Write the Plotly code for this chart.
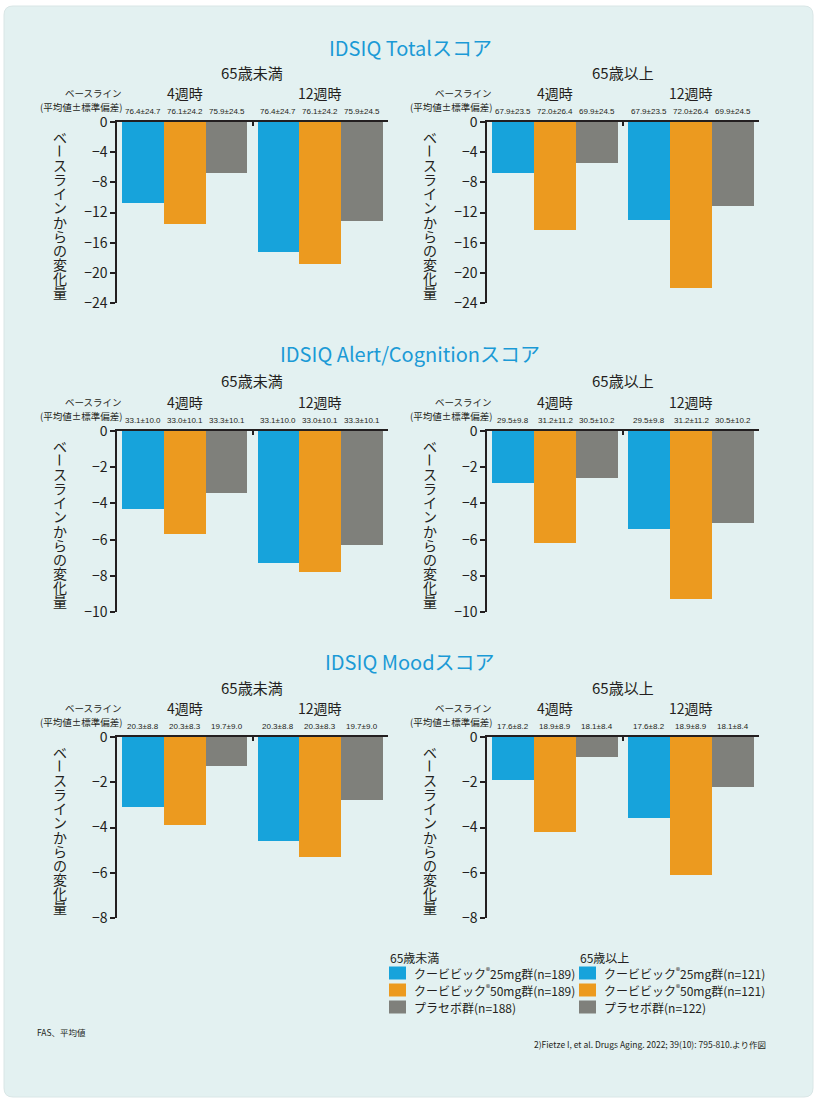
import plotly.graph_objects as go

# ---------------- data ----------------
timepoints = ["4週時", "12週時"]
age_groups = ["65歳未満", "65歳以上"]
scores = ["IDSIQ Totalスコア", "IDSIQ Alert/Cognitionスコア", "IDSIQ Moodスコア"]
series_names = ["クービビック®25mg群", "クービビック®50mg群", "プラセボ群"]

# change from baseline [4週時, 12週時]
total_u65_25 = [-10.7, -17.2]
total_u65_50 = [-13.5, -18.8]
total_u65_pbo = [-6.8, -13.1]
total_o65_25 = [-6.8, -13.0]
total_o65_50 = [-14.3, -22.0]
total_o65_pbo = [-5.5, -11.1]

alert_u65_25 = [-4.3, -7.3]
alert_u65_50 = [-5.7, -7.8]
alert_u65_pbo = [-3.4, -6.3]
alert_o65_25 = [-2.9, -5.4]
alert_o65_50 = [-6.2, -9.3]
alert_o65_pbo = [-2.6, -5.1]

mood_u65_25 = [-3.1, -4.6]
mood_u65_50 = [-3.9, -5.3]
mood_u65_pbo = [-1.3, -2.8]
mood_o65_25 = [-1.9, -3.6]
mood_o65_50 = [-4.2, -6.1]
mood_o65_pbo = [-0.9, -2.2]

# baseline (mean ± SD)
total_u65_base = ["76.4±24.7", "76.1±24.2", "75.9±24.5"]
total_o65_base = ["67.9±23.5", "72.0±26.4", "69.9±24.5"]
alert_u65_base = ["33.1±10.0", "33.0±10.1", "33.3±10.1"]
alert_o65_base = ["29.5±9.8", "31.2±11.2", "30.5±10.2"]
mood_u65_base = ["20.3±8.8", "20.3±8.3", "19.7±9.0"]
mood_o65_base = ["17.6±8.2", "18.9±8.9", "18.1±8.4"]

total_ticks = [0, -4, -8, -12, -16, -20, -24]
alert_ticks = [0, -2, -4, -6, -8, -10]
mood_ticks = [0, -2, -4, -6, -8]

n_u65 = [189, 189, 188]
n_o65 = [121, 121, 122]

# ---------------- style ----------------
W, H = 817, 1102
BG = "#E3F1F1"
TXT = "#231F20"
TITLE_C = "#1B9AD6"
COLORS = ["#17A3DB", "#EC9A1F", "#7F807B"]
JP = "Noto Sans CJK JP"
NUM = "Liberation Sans, Arial, sans-serif"


def fx(p):
    return p / W


def fy(p):
    return 1 - p / H


panels = [
    # (values, baseline labels, ticks, age idx)
    ([total_u65_25, total_u65_50, total_u65_pbo], total_u65_base, total_ticks, 0),
    ([total_o65_25, total_o65_50, total_o65_pbo], total_o65_base, total_ticks, 1),
    ([alert_u65_25, alert_u65_50, alert_u65_pbo], alert_u65_base, alert_ticks, 0),
    ([alert_o65_25, alert_o65_50, alert_o65_pbo], alert_o65_base, alert_ticks, 1),
    ([mood_u65_25, mood_u65_50, mood_u65_pbo], mood_u65_base, mood_ticks, 0),
    ([mood_o65_25, mood_o65_50, mood_o65_pbo], mood_o65_base, mood_ticks, 1),
]

col_px = [(117, 388), (487, 759)]
row_px = [(122, 303), (431, 612), (737, 918)]
title_y = [47, 353, 661]

group_off = [0.0, 3.24]
xr = [-0.62, 5.86]
divider = 2.62

fig = go.Figure()
annotations = []
shapes = []

# card background
x0, x1, y0, y1, r = 4, 813, 6, 1097, 9
path = (f"M {fx(x0+r)},{fy(y0)} L {fx(x1-r)},{fy(y0)} Q {fx(x1)},{fy(y0)} {fx(x1)},{fy(y0+r)} "
        f"L {fx(x1)},{fy(y1-r)} Q {fx(x1)},{fy(y1)} {fx(x1-r)},{fy(y1)} "
        f"L {fx(x0+r)},{fy(y1)} Q {fx(x0)},{fy(y1)} {fx(x0)},{fy(y1-r)} "
        f"L {fx(x0)},{fy(y0+r)} Q {fx(x0)},{fy(y0)} {fx(x0+r)},{fy(y0)} Z")
shapes.append(dict(type="path", xref="paper", yref="paper", path=path,
                   fillcolor=BG, line=dict(color="#D9E6E6", width=1), layer="below"))

ylabel_chars = list("ベースラインからの変化量")

for i, (vals, base, ticks, age) in enumerate(panels):
    k = i + 1
    row = i // 2
    cx0, cx1 = col_px[age]
    ry0, ry1 = row_px[row]
    xa = "x" if k == 1 else f"x{k}"
    ya = "y" if k == 1 else f"y{k}"
    for s in range(3):
        fig.add_trace(go.Bar(
            x=[g + s for g in group_off], y=vals[s], width=1.0,
            marker=dict(color=COLORS[s], line=dict(width=0)),
            xaxis=xa, yaxis=ya, showlegend=False, hoverinfo="skip"))
    xkey = "xaxis" if k == 1 else f"xaxis{k}"
    ykey = "yaxis" if k == 1 else f"yaxis{k}"
    fig.update_layout(**{
        xkey: dict(domain=[fx(cx0), fx(cx1)], range=xr, anchor=ya, side="top",
                   showline=True, linecolor=TXT, linewidth=1.5, ticks="inside",
                   tickvals=[divider, xr[1]], ticklen=4, tickwidth=1.5, tickcolor=TXT,
                   showticklabels=False, showgrid=False, zeroline=False, fixedrange=True,
                   automargin=False),
        ykey: dict(domain=[fy(ry1), fy(ry0)], range=[ticks[-1], 0], anchor=xa,
                   showline=True, linecolor=TXT, linewidth=1.5, ticks="outside",
                   tickvals=ticks, ticklen=5, tickwidth=1.5, tickcolor=TXT,
                   tickfont=dict(family=JP, size=14, color=TXT),
                   showgrid=False, zeroline=False, fixedrange=True, automargin=False),
    })
    ccen = (cx0 + cx1) / 2
    # headers
    annotations.append(dict(text=age_groups[age], x=fx(ccen), y=fy(ry0 - 50), xref="paper", yref="paper",
                            showarrow=False, font=dict(family=JP, size=15, color=TXT),
                            xanchor="center", yanchor="middle"))
    for g, tp in enumerate(timepoints):
        annotations.append(dict(text=tp, x=group_off[g] + 1, y=fy(ry0 - 29), xref=xa, yref="paper",
                                showarrow=False, font=dict(family=JP, size=14, color=TXT),
                                xanchor="center", yanchor="middle"))
        for s in range(3):
            annotations.append(dict(text=base[s], x=group_off[g] + s, y=fy(ry0 - 10), xref=xa, yref="paper",
                                    showarrow=False, font=dict(family=NUM, size=8, color=TXT),
                                    xanchor="center", yanchor="middle"))
    annotations.append(dict(text="ベースライン", x=fx(cx0 + 7), y=fy(ry0 - 29), xref="paper", yref="paper",
                            showarrow=False, font=dict(family=JP, size=9.5, color=TXT),
                            xanchor="right", yanchor="middle"))
    annotations.append(dict(text="(平均値±標準偏差)", x=fx(cx0 + 7), y=fy(ry0 - 15), xref="paper", yref="paper",
                            showarrow=False, font=dict(family=JP, size=9.5, color=TXT),
                            xanchor="right", yanchor="middle"))
    # vertical y-axis title, one upright character per line
    mid = (ry0 + ry1) / 2 + 2
    step = 14.1
    n = len(ylabel_chars)
    for j, ch in enumerate(ylabel_chars):
        cy = mid + (j - (n - 1) / 2) * step
        annotations.append(dict(text=ch, x=fx(cx0 - 57), y=fy(cy), xref="paper", yref="paper",
                                showarrow=False, font=dict(family=JP, size=14, color=TXT),
                                textangle=90 if ch == "ー" else 0,
                                xanchor="center", yanchor="middle"))

# score titles
for t, ty in zip(scores, title_y):
    annotations.append(dict(text=t, x=fx(410), y=fy(ty), xref="paper", yref="paper", showarrow=False,
                            font=dict(family=JP, size=20, color=TITLE_C), xanchor="center", yanchor="middle"))

# custom legend
leg_cols = [(389, 412, n_u65, 0), (579, 602, n_o65, 1)]
for sx, tx, ns, age in leg_cols:
    annotations.append(dict(text=age_groups[age], x=fx(sx - 1), y=fy(957), xref="paper", yref="paper",
                            showarrow=False, font=dict(family=JP, size=12, color=TXT),
                            xanchor="left", yanchor="middle"))
    for s in range(3):
        cy = 973 + s * 17
        shapes.append(dict(type="rect", xref="paper", yref="paper", x0=fx(sx), x1=fx(sx + 17),
                           y0=fy(cy + 6.5), y1=fy(cy - 6.5), fillcolor=COLORS[s], line=dict(width=0)))
        name = series_names[s].replace("®", "<sup>®</sup>")
        annotations.append(dict(text=f"{name}(n={ns[s]})", x=fx(tx), y=fy(cy), xref="paper", yref="paper",
                                showarrow=False, font=dict(family=JP, size=12, color=TXT),
                                xanchor="left", yanchor="middle"))

# footnotes
annotations.append(dict(text="FAS、平均値", x=fx(35), y=fy(1032), xref="paper", yref="paper", showarrow=False,
                        font=dict(family=JP, size=8.5, color=TXT), xanchor="left", yanchor="middle"))
annotations.append(dict(text="2)Fietze I, et al. Drugs Aging. 2022; 39(10): 795-810.より作図",
                        x=fx(768), y=fy(1044), xref="paper", yref="paper", showarrow=False,
                        font=dict(family=JP, size=8.5, color=TXT), xanchor="right", yanchor="middle"))

fig.update_layout(
    template="none",
    width=W, height=H, margin=dict(l=0, r=0, t=0, b=0, pad=0, autoexpand=False),
    paper_bgcolor="white", plot_bgcolor="white",
    barmode="overlay", bargap=0, showlegend=False,
    annotations=annotations, shapes=shapes,
    font=dict(family=JP, color=TXT),
)

fig.write_html("out.html")
